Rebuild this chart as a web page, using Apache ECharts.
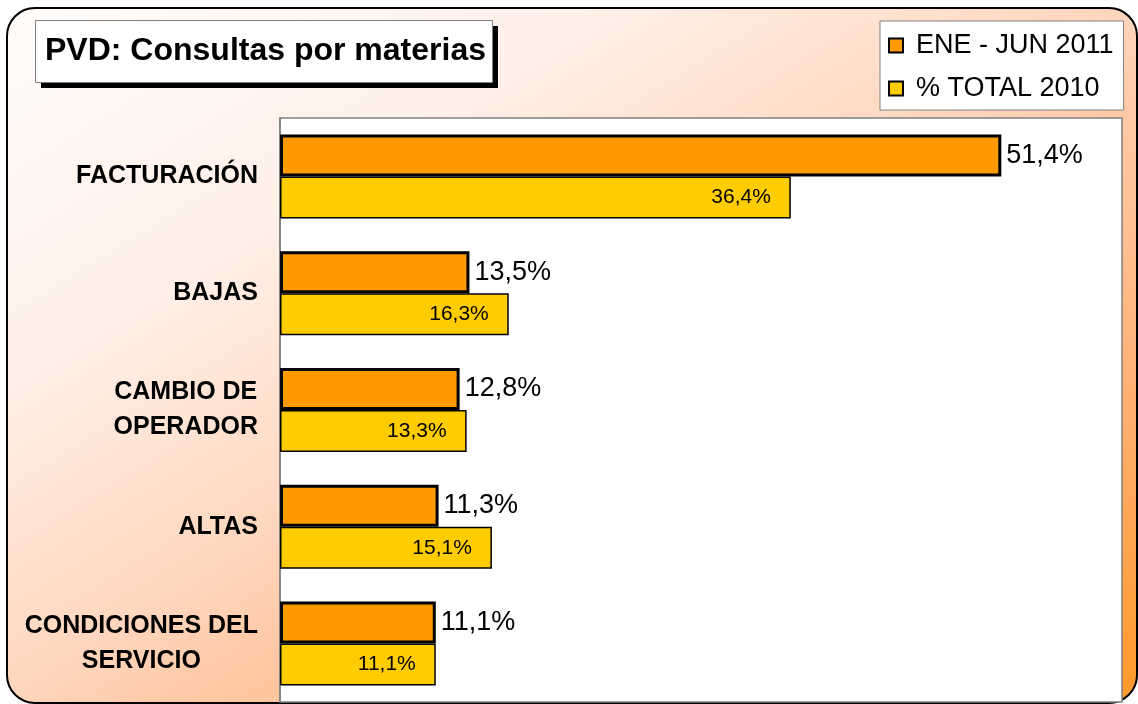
<!DOCTYPE html>
<html>
<head>
<meta charset="utf-8">
<script src="https://cdn.jsdelivr.net/npm/echarts@6/dist/echarts.min.js"></script>
<style>
html,body{margin:0;padding:0;background:#fff;}
#chart{width:1138px;height:704px;}
</style>
</head>
<body>
<div id="chart"></div>
<script>
var categories = ['FACTURACIÓN', 'BAJAS', 'CAMBIO DE\nOPERADOR', 'ALTAS', 'CONDICIONES DEL\nSERVICIO'];
var seriesNames = ['ENE - JUN 2011', '% TOTAL 2010'];
var eneJun2011 = [51.4, 13.5, 12.8, 11.3, 11.1];
var total2010 = [36.4, 16.3, 13.3, 15.1, 11.1];

function fmtPct(p) {
  return p.value.toFixed(1).replace('.', ',') + '%';
}

var FONT = 'Arial, "Liberation Sans", sans-serif';
var chart = echarts.init(document.getElementById('chart'), null, {renderer: 'canvas'});
var option = {
  animation: false,
  textStyle: {fontFamily: FONT},
  graphic: [{
    type: 'rect',
    z: -10,
    shape: {x: 7, y: 8, width: 1130, height: 695, r: 28},
    style: {
      fill: {
        type: 'linear', x: 7, y: 8, x2: 627, y2: 1016, global: true,
        colorStops: [
          {offset: 0, color: '#FFFDFB'},
          {offset: 0.28, color: '#FFEFE6'},
          {offset: 0.5, color: '#FFD5BC'},
          {offset: 0.57, color: '#FFCAA8'},
          {offset: 0.78, color: '#FFB072'},
          {offset: 0.9, color: '#FFA24A'},
          {offset: 1, color: '#FF9A28'}
        ]
      },
      stroke: '#000',
      lineWidth: 2
    }
  }, {
    type: 'rect',
    z: 3,
    shape: {x: 41, y: 26, width: 457, height: 62},
    style: {fill: '#000'}
  }, {
    type: 'rect',
    z: 4,
    shape: {x: 35.5, y: 20.5, width: 457, height: 62},
    style: {fill: '#fff', stroke: '#808080', lineWidth: 1}
  }],
  title: {
    text: 'PVD: Consultas por materias',
    left: 37,
    top: 20,
    padding: [15, 8, 15, 8],
    z: 10,
    textStyle: {fontSize: 32, fontWeight: 'bold', color: '#000', fontFamily: FONT}
  },
  legend: {
    orient: 'vertical',
    left: 880,
    top: 21,
    data: seriesNames,
    backgroundColor: '#fff',
    borderColor: '#808080',
    borderWidth: 1,
    padding: [11, 10, 8, 8],
    itemGap: 16,
    itemWidth: 14,
    itemHeight: 14,
    itemTextGap: 13,
    icon: 'rect',
    textStyle: {fontSize: 27, color: '#000', padding: [0, 0, 0, 8]}
  },
  grid: {
    left: 280, top: 118, right: 16, bottom: 2,
    show: true,
    backgroundColor: '#fff',
    borderColor: '#808080',
    borderWidth: 1.5,
    containLabel: false
  },
  xAxis: {
    type: 'value',
    min: 0, max: 60,
    show: false
  },
  yAxis: {
    type: 'category',
    data: categories,
    inverse: true,
    axisLine: {lineStyle: {color: '#808080', width: 1.5}},
    axisTick: {length: 8, lineStyle: {color: '#808080', width: 1.5}},
    axisLabel: {
      margin: 22,
      align: 'right',
      formatter: function (v) {
        return v.split('\n').map(function (s) { return '{a|' + s + '}'; }).join('\n');
      },
      rich: {
        a: {fontSize: 25, fontWeight: 'bold', color: '#000', align: 'center', lineHeight: 35, fontFamily: FONT}
      }
    }
  },
  series: [{
    name: seriesNames[0],
    type: 'bar',
    data: eneJun2011,
    barWidth: 42,
    barGap: '0%',
    itemStyle: {color: '#FF9900', borderColor: '#000', borderWidth: 3},
    label: {show: true, position: 'right', distance: 5, fontSize: 27, color: '#000', formatter: fmtPct}
  }, {
    name: seriesNames[1],
    type: 'bar',
    data: total2010,
    barWidth: 42,
    barGap: '0%',
    itemStyle: {color: '#FFCC00', borderColor: '#000', borderWidth: 1.5},
    label: {show: true, position: 'insideRight', distance: 20, fontSize: 21, color: '#000', formatter: fmtPct}
  }]
};
chart.setOption(option);
</script>
</body>
</html>
